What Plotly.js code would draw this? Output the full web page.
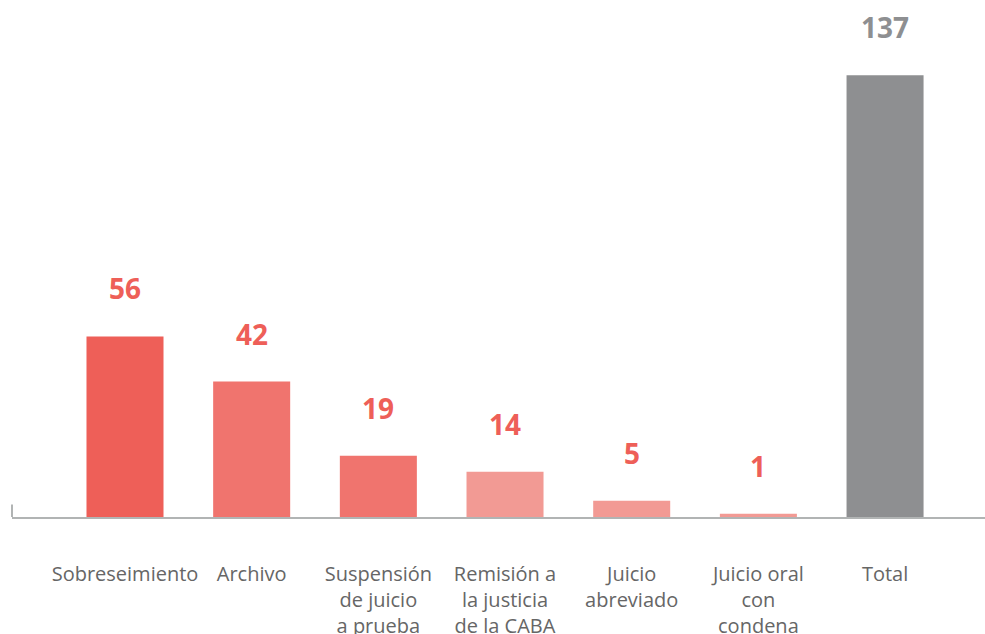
<!DOCTYPE html>
<html><head><meta charset="utf-8">
<script src="https://cdn.plot.ly/plotly-3.0.1.min.js"></script>
<style>html,body{margin:0;padding:0;background:#fff}#chart{width:985px;height:634px}</style>
</head><body><div id="chart"></div>
<script>
const categories = ["Sobreseimiento", "Archivo", "Suspensión<br>de juicio<br>a prueba", "Remisión a<br>la justicia<br>de la CABA", "Juicio<br>abreviado", "Juicio oral<br>con<br>condena", "Total"];
const values = [56, 42, 19, 14, 5, 1, 137];
const barColors = ["#EE5F58", "#F0746E", "#F0746E", "#F29A94", "#F29A94", "#F29A94", "#8E8F91"];
const labelColors = ["#EE5F58", "#EE5F58", "#EE5F58", "#EE5F58", "#EE5F58", "#EE5F58", "#8E8F91"];

const trace = {
  type: "bar", x: categories, y: values,
  marker: {color: barColors},
  hoverinfo: "none"
};
const annotations = categories.map((c, i) => ({
  x: c, y: values[i], xref: "x", yref: "y",
  text: "<b>" + values[i] + "</b>", showarrow: false,
  yanchor: "middle", yshift: 48,
  font: {family: "Open Sans", size: 28, color: labelColors[i]}
}));
const layout = {
  width: 985, height: 634,
  margin: {l: 12, r: 0, t: 0, b: 117},
  paper_bgcolor: "#fff", plot_bgcolor: "#fff",
  bargap: 0.392,
  showlegend: false,
  xaxis: {
    type: "category", range: [-0.892, 6.789],
    showline: true, linecolor: "#B1B4B4", linewidth: 2,
    ticks: "", showgrid: false, zeroline: false,
    ticklabelstandoff: 38,
    tickfont: {family: "Open Sans", size: 20, color: "#666666"}
  },
  yaxis: {range: [0, 160.3], visible: false, fixedrange: true},
  shapes: [{type: "line", xref: "paper", yref: "paper", x0: 0, x1: 0, y0: 0, y1: 0.024,
            line: {color: "#B1B4B4", width: 2}}],
  annotations: annotations
};
Plotly.newPlot("chart", [trace], layout, {displayModeBar: false, staticPlot: true});
</script></body></html>
